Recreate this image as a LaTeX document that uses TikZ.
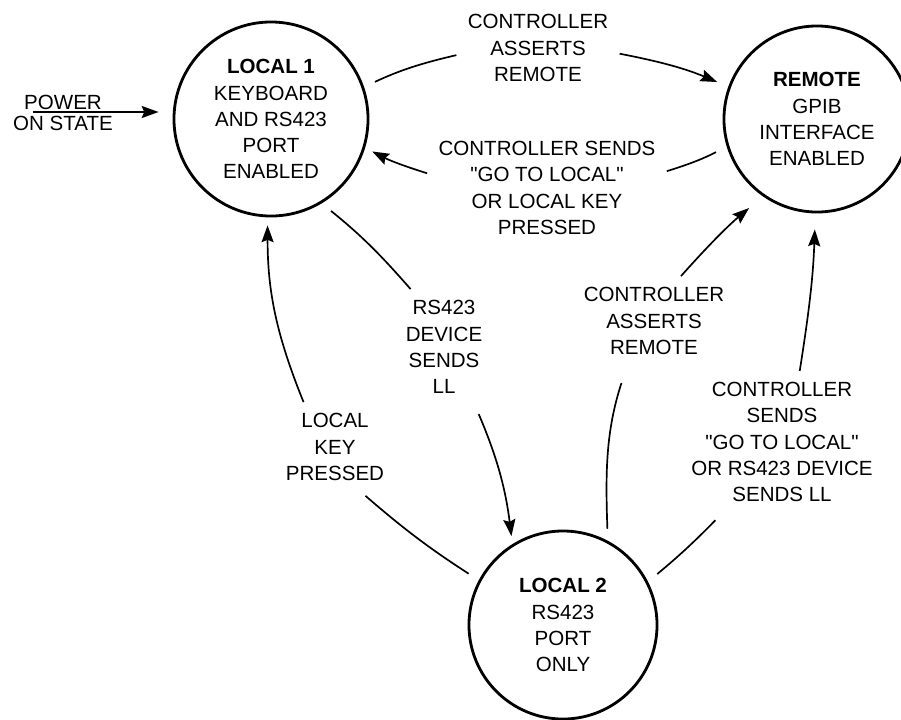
\documentclass[tikz,border=0pt]{standalone}
\usepackage{fontspec}
\setmainfont{Liberation Sans}
\usepackage{tikz}
\usetikzlibrary{arrows.meta, positioning}
\newcommand{\diagfont}{\fontsize{14.6}{18.6}\selectfont}

\begin{document}
\begin{tikzpicture}[
    x=0.025cm, y=0.025cm,
    state/.style={circle, draw, line width=2pt, inner sep=0pt,
                  align=center, font=\diagfont},
    lbl/.style={align=center, inner sep=0.28cm, font=\diagfont},
    leg/.style={line width=1.2pt, shorten <=0.3cm},
    arrow/.style={-{Stealth[length=0.42cm, width=0.3cm, inset=0.06cm]},
                  line width=1.2pt, shorten >=0.2cm},
]
  \useasboundingbox (0,0) rectangle (901,-719);

  \node[state, minimum size=4.85cm] (local1) at (271,-119)
    {\textbf{LOCAL 1}\\KEYBOARD\\AND RS423\\PORT\\ENABLED};
  \node[state, minimum size=4.65cm] (remote) at (817,-119)
    {\textbf{REMOTE}\\GPIB\\INTERFACE\\ENABLED};
  \node[state, minimum size=4.7cm] (local2) at (563,-625)
    {\textbf{LOCAL 2}\\RS423\\PORT\\ONLY};

  \node[lbl] (assert1) at (538,-48)  {CONTROLLER\\ASSERTS\\REMOTE};
  \node[lbl] (gtl1)    at (547,-188) {CONTROLLER SENDS\\\textquotedbl GO TO LOCAL\textquotedbl\\OR LOCAL KEY\\PRESSED};
  \node[lbl] (rsll)    at (444,-347) {RS423\\DEVICE\\SENDS\\LL};
  \node[lbl] (lkey)    at (335,-447) {LOCAL\\KEY\\PRESSED};
  \node[lbl] (assert2) at (654,-321) {CONTROLLER\\ASSERTS\\REMOTE};
  \node[lbl] (gtl2)    at (782,-442) {CONTROLLER\\SENDS\\\textquotedbl GO TO LOCAL\textquotedbl\\OR RS423 DEVICE\\SENDS LL};
  \node[align=center, inner sep=0pt, font=\fontsize{14.6}{14.9}\selectfont]
    (power) at (63,-112.5) {POWER\\ON STATE};

  \coordinate (pwrin) at (33,-112);
  \draw[arrow, shorten >=0.35cm] (pwrin) -- (pwrin -| local1.west);

  \draw[leg] (local1.19) to[bend left=6] (assert1.185);
  \draw[arrow, shorten >=0.3cm] (assert1.-4) to[bend left=6] (remote.160);

  \draw[leg] (remote.197) to[bend left=5] (gtl1.8);
  \draw[arrow] (gtl1.173) to[bend left=5] (local1.-17);

  \draw[leg] (local1.-59) to[bend left=5] (rsll.120);
  \draw[arrow, shorten <=0.25cm] (rsll.-62) to[bend left=8] (local2.122);

  \draw[leg, shorten >=0.15cm] (local2.152) to[bend left=4] (lkey.-60);
  \draw[arrow] (lkey.125) to[out=112, in=-90] (local1.-92);

  \draw[leg, shorten >=0.45cm] (local2.62) to[out=92, in=-108] (assert2.-121);
  \draw[arrow, shorten >=0.45cm] (assert2.59) to[bend left=4] (remote.-125);

  \draw[leg, shorten >=0.25cm] (local2.27) to[bend right=3] (gtl2.-130);
  \draw[arrow, shorten >=0.4cm] (gtl2.76) to[out=81, in=-92] (remote.-91);
\end{tikzpicture}
\end{document}
